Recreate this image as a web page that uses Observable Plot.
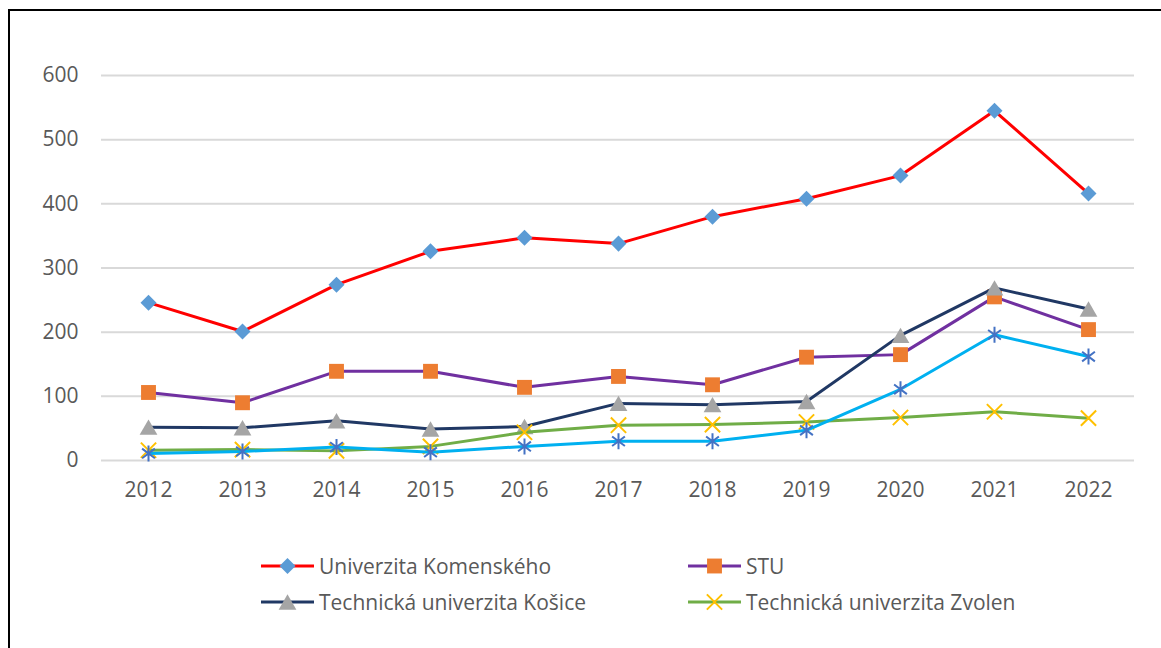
<!DOCTYPE html>
<html>
<head>
<meta charset="utf-8">
<script src="https://cdn.jsdelivr.net/npm/d3@7"></script>
<script src="https://cdn.jsdelivr.net/npm/@observablehq/plot@0.6"></script>
<style>
  html, body { margin: 0; padding: 0; background: #fff; width: 1161px; height: 648px; overflow: hidden; }
  #frame { position: absolute; left: 8px; top: 9px; width: 1200px; height: 700px; border-left: 2px solid #000; border-top: 2px solid #000; }
  #chart { position: absolute; left: 0; top: 0; }
  .leg { position: absolute; display: flex; align-items: center; font-family: "Open Sans", sans-serif; font-size: 21px; color: #595959; white-space: nowrap; }
  .leg svg { margin-right: 5px; }
</style>
</head>
<body>
<div id="frame"></div>
<div id="chart"></div>
<div id="legend"></div>
<script>
const years = ["2012","2013","2014","2015","2016","2017","2018","2019","2020","2021","2022"];
const seriesNames = ["Univerzita Komenského", "STU", "Technická univerzita Košice", "Technická univerzita Zvolen", ""];
const ukValues     = [246, 201, 274, 326, 347, 338, 380, 408, 444, 545, 416];
const stuValues    = [106,  90, 139, 139, 114, 131, 118, 161, 165, 255, 204];
const tukeValues   = [ 52,  51,  62,  49,  53,  89,  87,  92, 195, 269, 236];
const zvolenValues = [ 16,  17,  15,  22,  44,  55,  56,  60,  67,  76,  66];
const fifthValues  = [ 11,  14,  21,  13,  22,  30,  30,  47, 111, 196, 162];
const yTicks = [0, 100, 200, 300, 400, 500, 600];

// square diamond (rotated square) symbol
const squareDiamond = {
  draw(context, size) {
    const h = Math.sqrt(size / 2);
    context.moveTo(0, -h);
    context.lineTo(h, 0);
    context.lineTo(0, h);
    context.lineTo(-h, 0);
    context.closePath();
  }
};
// triangle centred on its bounding box
const boxTriangle = {
  draw(context, size) {
    const s = Math.sqrt(size * 4 / Math.sqrt(3));
    const hgt = s * Math.sqrt(3) / 2;
    context.moveTo(0, -hgt / 2);
    context.lineTo(s / 2, hgt / 2);
    context.lineTo(-s / 2, hgt / 2);
    context.closePath();
  }
};
// Excel-style star: an X plus a vertical bar
const excelStar = {
  draw(context, size) {
    const r = Math.sqrt(size / Math.PI);
    const d = r * 0.8;
    context.moveTo(0, -r); context.lineTo(0, r);
    context.moveTo(-d, -d * 0.75); context.lineTo(d, d * 0.75);
    context.moveTo(-d, d * 0.75); context.lineTo(d, -d * 0.75);
  }
};

const styles = [
  {line: "#FF0000", symbol: squareDiamond, fill: "#5B9BD5", stroke: "none", r: 6.4},
  {line: "#7030A0", symbol: d3.symbolSquare, fill: "#ED7D31", stroke: "none", r: 8.4},
  {line: "#203864", symbol: boxTriangle, fill: "#A5A5A5", stroke: "none", r: 6.6},
  {line: "#70AD47", symbol: d3.symbolTimes, fill: "none", stroke: "#FFC000", r: 7},
  {line: "#00B0F0", symbol: excelStar, fill: "none", stroke: "#4472C4", r: 8}
];
const allValues = [ukValues, stuValues, tukeValues, zvolenValues, fifthValues];
const data = allValues.map((vals, i) => vals.map((v, j) => ({year: years[j], value: v, s: i})));

const marks = [
  Plot.gridY(yTicks, {stroke: "#d9d9d9", strokeOpacity: 1, strokeWidth: 2})
];
data.forEach((d, i) => {
  const st = styles[i];
  marks.push(Plot.line(d, {x: "year", y: "value", stroke: st.line, strokeWidth: 3, curve: "linear"}));
  marks.push(Plot.dot(d, {x: "year", y: "value", symbol: st.symbol, r: st.r,
    fill: st.fill, stroke: st.stroke, strokeWidth: st.stroke === "none" ? 0 : 2}));
});
marks.push(Plot.axisY(yTicks, {tickSize: 0, tickPadding: 23, fontSize: 21, fill: "#595959", label: null}));
marks.push(Plot.axisX({tickSize: 0, tickPadding: 22, fontSize: 21, fill: "#595959", label: null}));

const chart = Plot.plot({
  width: 1161,
  height: 520,
  marginLeft: 101,
  marginRight: 27,
  marginTop: 75,
  marginBottom: 60,
  style: {fontFamily: "Open Sans, sans-serif", background: "transparent", overflow: "visible"},
  x: {type: "point", domain: years, range: [147, 1088], padding: 0, label: null},
  y: {domain: [0, 600], label: null},
  marks
});
document.getElementById("chart").appendChild(chart);

// Legend (first four series, as in the reference)
const legendPos = [
  {left: 261, top: 566}, {left: 688, top: 566},
  {left: 261, top: 602}, {left: 688, top: 602}
];
const legend = document.getElementById("legend");
for (let i = 0; i < 4; i++) {
  const st = styles[i];
  const div = document.createElement("div");
  div.className = "leg";
  div.style.left = legendPos[i].left + "px";
  div.style.top = (legendPos[i].top - 15) + "px";
  div.style.height = "30px";
  const sym = d3.symbol(st.symbol, Math.PI * st.r * st.r)();
  div.innerHTML = `<svg width="53" height="30"><line x1="0" x2="53" y1="15" y2="15" stroke="${st.line}" stroke-width="3"/><path d="${sym}" transform="translate(26.5,15)" fill="${st.fill}" stroke="${st.stroke}" stroke-width="2"/></svg><span>${seriesNames[i]}</span>`;
  legend.appendChild(div);
}
</script>
</body>
</html>
